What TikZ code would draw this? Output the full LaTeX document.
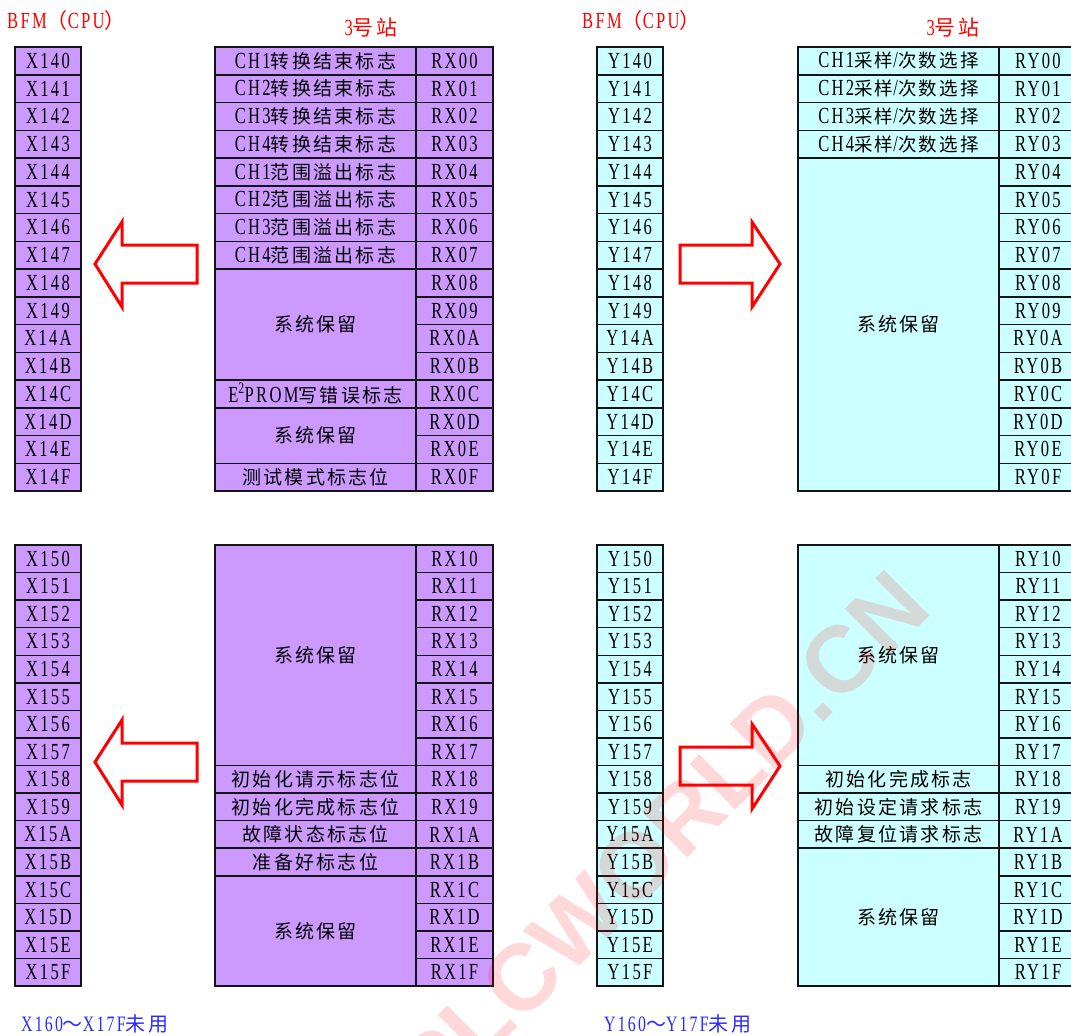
\documentclass[tikz,border=0pt]{standalone}
\usepackage{fontspec}
\setmainfont{Liberation Serif}[FakeStretch=0.72,LetterSpace=10]
\newfontfamily\cjk{Noto Sans CJK SC}[LetterSpace=12]
\newfontfamily\wmfont{Liberation Sans}
\usetikzlibrary{backgrounds}
\definecolor{pur}{HTML}{CC99FF}
\definecolor{cya}{HTML}{CCFFFF}
\definecolor{hdrred}{HTML}{FF0000}
\definecolor{noteblue}{HTML}{2A2AFF}
\definecolor{gridline}{HTML}{141414}
\newcommand\zh[1]{{\cjk\fontsize{19}{19}\selectfont #1}}
\newcommand\zhs[1]{{\cjk\fontsize{18.5}{18.5}\selectfont #1}}
\newcommand\zhh[1]{{\cjk\fontsize{21}{21}\selectfont #1}}
\newcommand\zhn[1]{{\cjk\fontsize{20}{20}\selectfont #1}}
\tikzset{
  cellbox/.style={draw=gridline, line width=1.5pt, inner sep=0pt, outer sep=0pt,
    font=\fontsize{23}{23}\selectfont, text=black},
  hdr/.style={font=\fontsize{23}{23}\selectfont, text=hdrred, inner sep=0pt},
  note/.style={font=\fontsize{22}{22}\selectfont, text=noteblue, inner sep=0pt, anchor=west},
  bigarrow/.style={draw=red, line width=3pt, fill=white, line join=miter},
  watermark/.style={font=\wmfont\bfseries\fontsize{94}{94}\selectfont, text=red, text opacity=0.15, inner sep=0pt}
}
% name, x1, y1, x2, y2, fill, text
\newcommand\mkcell[7]{%
  \begin{pgfonlayer}{background}\fill[#6] (#2,#3) rectangle (#4,#5);\end{pgfonlayer}
  \node[cellbox, minimum width={#4-#2}, minimum height={#5-#3}] (#1) at ({(#2+#4)/2},{(#3+#5)/2}) {#7};}
% name, x1, x2, y0, h, firstrow, lastrow, fill, text
\newcommand\desccell[9]{%
  \pgfmathsetmacro\dya{#4+#6*#5}\pgfmathsetmacro\dyb{#4+(#7+1)*#5}%
  \mkcell{#1}{#2}{\dya}{#3}{\dyb}{#8}{#9}}
\begin{document}
\begin{tikzpicture}[x=1pt,y=-1pt]
\useasboundingbox (0,0) rectangle (1071,1036);
\begin{pgfonlayer}{background}\fill[white] (0,0) rectangle (1071,1036);\end{pgfonlayer}

% ---------- address columns ----------
\foreach \h [count=\i from 0] in {0,1,2,3,4,5,6,7,8,9,A,B,C,D,E,F}{
  \pgfmathsetmacro\ta{47+\i*27.75}\pgfmathsetmacro\tb{47+(\i+1)*27.75}
  \pgfmathsetmacro\ba{545+\i*27.5625}\pgfmathsetmacro\bb{545+(\i+1)*27.5625}
  \mkcell{xa\h}{15}{\ta}{81}{\tb}{pur}{X14\h}
  \mkcell{xb\h}{15}{\ba}{81}{\bb}{pur}{X15\h}
  \mkcell{rxa\h}{416}{\ta}{493}{\tb}{pur}{RX0\h}
  \mkcell{rxb\h}{416}{\ba}{493}{\bb}{pur}{RX1\h}
  \mkcell{ya\h}{597}{\ta}{663}{\tb}{cya}{Y14\h}
  \mkcell{yb\h}{597}{\ba}{663}{\bb}{cya}{Y15\h}
  \mkcell{rya\h}{999}{\ta}{1077}{\tb}{cya}{RY0\h}
  \mkcell{ryb\h}{999}{\ba}{1077}{\bb}{cya}{RY1\h}
}

% ---------- top-left descriptions ----------
\desccell{dl0}{215}{416}{47}{27.75}{0}{0}{pur}{CH1\zh{转换结束标志}}
\desccell{dl1}{215}{416}{47}{27.75}{1}{1}{pur}{CH2\zh{转换结束标志}}
\desccell{dl2}{215}{416}{47}{27.75}{2}{2}{pur}{CH3\zh{转换结束标志}}
\desccell{dl3}{215}{416}{47}{27.75}{3}{3}{pur}{CH4\zh{转换结束标志}}
\desccell{dl4}{215}{416}{47}{27.75}{4}{4}{pur}{CH1\zh{范围溢出标志}}
\desccell{dl5}{215}{416}{47}{27.75}{5}{5}{pur}{CH2\zh{范围溢出标志}}
\desccell{dl6}{215}{416}{47}{27.75}{6}{6}{pur}{CH3\zh{范围溢出标志}}
\desccell{dl7}{215}{416}{47}{27.75}{7}{7}{pur}{CH4\zh{范围溢出标志}}
\desccell{dl8}{215}{416}{47}{27.75}{8}{11}{pur}{\zh{系统保留}}
\desccell{dlC}{215}{416}{47}{27.75}{12}{12}{pur}{E\textsuperscript{2}PROM\zh{写错误标志}}
\desccell{dlD}{215}{416}{47}{27.75}{13}{14}{pur}{\zh{系统保留}}
\desccell{dlF}{215}{416}{47}{27.75}{15}{15}{pur}{\zh{测试模式标志位}}

% ---------- bottom-left descriptions ----------
\desccell{el0}{215}{416}{545}{27.5625}{0}{7}{pur}{\zh{系统保留}}
\desccell{el8}{215}{416}{545}{27.5625}{8}{8}{pur}{\zh{初始化请示标志位}}
\desccell{el9}{215}{416}{545}{27.5625}{9}{9}{pur}{\zh{初始化完成标志位}}
\desccell{elA}{215}{416}{545}{27.5625}{10}{10}{pur}{\zh{故障状态标志位}}
\desccell{elB}{215}{416}{545}{27.5625}{11}{11}{pur}{\zh{准备好标志位}}
\desccell{elC}{215}{416}{545}{27.5625}{12}{15}{pur}{\zh{系统保留}}

% ---------- top-right descriptions ----------
\desccell{dr0}{798}{999}{47}{27.75}{0}{0}{cya}{CH1\zhs{采样}/\zhs{次数选择}}
\desccell{dr1}{798}{999}{47}{27.75}{1}{1}{cya}{CH2\zhs{采样}/\zhs{次数选择}}
\desccell{dr2}{798}{999}{47}{27.75}{2}{2}{cya}{CH3\zhs{采样}/\zhs{次数选择}}
\desccell{dr3}{798}{999}{47}{27.75}{3}{3}{cya}{CH4\zhs{采样}/\zhs{次数选择}}
\desccell{dr4}{798}{999}{47}{27.75}{4}{15}{cya}{\zh{系统保留}}

% ---------- bottom-right descriptions ----------
\desccell{er0}{798}{999}{545}{27.5625}{0}{7}{cya}{\zh{系统保留}}
\desccell{er8}{798}{999}{545}{27.5625}{8}{8}{cya}{\zh{初始化完成标志}}
\desccell{er9}{798}{999}{545}{27.5625}{9}{9}{cya}{\zh{初始设定请求标志}}
\desccell{erA}{798}{999}{545}{27.5625}{10}{10}{cya}{\zh{故障复位请求标志}}
\desccell{erB}{798}{999}{545}{27.5625}{11}{15}{cya}{\zh{系统保留}}

% ---------- headers ----------
\node[hdr, anchor=west] (hbfmL) at (7,21) {BFM\zhh{（}CPU\zhh{）}};
\node[hdr] (hstaL) at (371,27) {3\zhh{号站}};
\node[hdr, anchor=west] (hbfmR) at (582,21) {BFM\zhh{（}CPU\zhh{）}};
\node[hdr] (hstaR) at (953,27) {3\zhh{号站}};

% ---------- notes ----------
\node[note] (noteL) at (21,1024) {X160\zhn{～}X17F\zhn{未用}};
\node[note] (noteR) at (604,1024) {Y160\zhn{～}Y17F\zhn{未用}};

% ---------- big arrows ----------
\draw[bigarrow] (95,264) -- (122,222) -- (122,245) -- (197,245) -- (197,283) -- (122,283) -- (122,307) -- cycle;
\draw[bigarrow] (95,762) -- (122,720) -- (122,743) -- (197,743) -- (197,781) -- (122,781) -- (122,805) -- cycle;
\draw[bigarrow] (780,264) -- (752,222) -- (752,245) -- (680,245) -- (680,283) -- (752,283) -- (752,307) -- cycle;
\draw[bigarrow] (780,766) -- (752,724) -- (752,747) -- (680,747) -- (680,785) -- (752,785) -- (752,809) -- cycle;

% ---------- watermark ----------
\node[watermark, rotate=45] (wm) at (662,838) {PLCWORLD.CN};
\end{tikzpicture}
\end{document}
